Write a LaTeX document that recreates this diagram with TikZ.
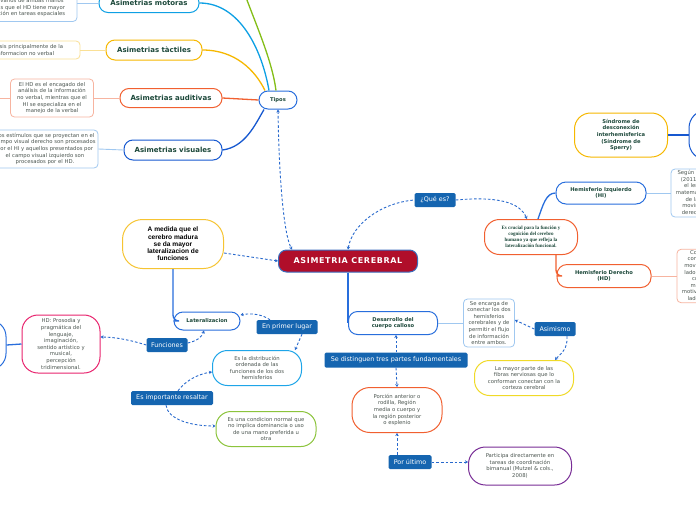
\documentclass[tikz,border=0pt]{standalone}
\usepackage{fontspec}
\setmainfont{DejaVu Sans}
\newfontfamily\arialfam{Liberation Sans}
\newfontfamily\timesfam{Liberation Serif}
\newfontfamily\titfam[LetterSpace=8]{DejaVu Sans}
\usetikzlibrary{arrows.meta}
\definecolor{titverde}{RGB}{28,72,58}
\definecolor{notagris}{RGB}{75,85,80}
\definecolor{etqazul}{RGB}{21,101,176}
\definecolor{enlazul}{RGB}{40,105,205}
\definecolor{rojo}{RGB}{176,14,42}
\definecolor{cmot}{RGB}{14,160,228}
\definecolor{ctac}{RGB}{246,184,0}
\definecolor{caud}{RGB}{241,96,48}
\definecolor{cvis}{RGB}{22,88,208}
\definecolor{cazul}{RGB}{40,110,220}
\definecolor{cverde}{RGB}{132,190,24}
\definecolor{ccian}{RGB}{30,165,232}
\definecolor{cpink}{RGB}{232,36,110}
\definecolor{ccond}{RGB}{140,196,60}
\definecolor{camar}{RGB}{240,218,40}
\definecolor{cmor}{RGB}{120,45,150}
\definecolor{cmedida}{RGB}{246,196,50}
\definecolor{ncel}{RGB}{160,200,240}
\definecolor{namar}{RGB}{250,224,150}
\definecolor{nsalm}{RGB}{247,180,160}
\definecolor{bordetit}{RGB}{60,110,190}
\newcommand{\notatxt}{\fontsize{5.3}{6.6}\selectfont}
\newcommand{\temtxt}{\fontsize{7}{8.4}\selectfont\bfseries}
\newcommand{\subtxt}{\fontsize{5.2}{6.6}\selectfont\bfseries}
\newcommand{\etqtxt}{\fontsize{6.4}{7.6}\selectfont}
\tikzset{
  tema/.style    ={draw, rounded corners=9pt, line width=1pt, fill=white, text=titverde, align=center, inner sep=1pt, font=\temtxt},
  subtema/.style ={tema, font=\subtxt},
  nota/.style    ={draw, rounded corners=4pt, line width=0.8pt, fill=white, text=notagris, align=center, inner sep=1pt, font=\notatxt},
  idea/.style    ={draw, rounded corners=15pt, line width=1pt, fill=white, text=notagris, align=center, inner sep=1pt, font=\notatxt},
  etiqueta/.style={fill=etqazul, text=white, rounded corners=1.5pt, align=center, inner sep=1pt, font=\etqtxt},
  rama/.style    ={line width=1.3pt},
  linea/.style   ={line width=0.9pt},
  enlace/.style  ={draw=enlazul, line width=0.9pt, dash pattern=on 2.6pt off 2pt}
}

\begin{document}
\begin{tikzpicture}[x=1pt, y=-1pt, >={Stealth[length=3pt,width=3.4pt]}]
  \useasboundingbox (0,0) rectangle (696,520);
  \fill[white] (0,0) rectangle (696,520);
  \coordinate (verdeorig) at (244,-8);
  \coordinate (audorig) at (-10,98);

  % tipos de asimetrias
  \node[nota, draw=ncel, minimum width=114, minimum height=30] (motnota) at (20,6.5) {\mbox{}\\Estudios varios de ambas manos\\evidencias que el HD tiene mayor\\participación en tareas espaciales};
  \node[nota, draw=namar, minimum width=110, minimum height=18] (tacnota) at (25,50) {análisis principalmente de la\\informacion no verbal};
  \node[nota, draw=nsalm, minimum width=83, minimum height=38] (audnota) at (52,98) {El HD es el encagado del\\análisis de la información\\no verbal, mientras que el\\HI se especializa en el\\manejo de la verbal};
  \node[nota, draw=ncel, minimum width=106, minimum height=38] (visnota) at (45,149) {Los estímulos que se proyectan en el\\campo visual derecho son procesados\\por el HI y aquellos presentados por\\el campo visual izquierdo son\\procesados por el HD.};
  \node[tema, draw=cmot, minimum width=100, minimum height=19] (motoras) at (149,3) {Asimetrias motoras};
  \node[tema, draw=ctac, minimum width=96, minimum height=20] (tactiles) at (154,50) {Asimetrias tàctiles};
  \node[tema, draw=caud, minimum width=102, minimum height=19] (auditivas) at (171,98) {Asimetrias auditivas};
  \node[tema, draw=cvis, minimum width=98, minimum height=20] (visuales) at (173,150) {Asimetrias visuales};
  \node[subtema, draw=cazul, minimum width=38, minimum height=18] (tipos) at (278,100) {Tipos};

  % centro
  \node[draw=bordetit, fill=rojo, text=white, rounded corners=8pt, line width=1pt, minimum width=139, minimum height=22, inner sep=1pt, font=\fontsize{8}{9}\titfam\bfseries] (asimetria) at (348,261) {ASIMETRIA CEREBRAL};
  \node[idea, draw=cmedida, text=black, rounded corners=20pt, minimum width=101, minimum height=49, font=\fontsize{6.6}{7.3}\arialfam\bfseries] (amedida) at (173,244) {A medida que el\\cerebro madura\\se da mayor\\lateralizacion de\\funciones};

  % lateralizacion
  \node[subtema, draw=cazul, minimum width=66, minimum height=18] (lateral) at (207,321) {Lateralizacion};
  \node[etiqueta, minimum width=61, minimum height=14] (primer) at (287,327) {En primer lugar};
  \node[idea, draw=ccian, minimum width=89, minimum height=35] (distrib) at (257,368) {Es la distribución\\ordenada de las\\funciones de los dos\\hemisferios};
  \node[etiqueta, minimum width=41, minimum height=14] (funciones) at (167,345) {Funciones};
  \node[idea, draw=cpink, rounded corners=16pt, minimum width=78, minimum height=58] (hdfun) at (61,344) {HD: Prosodia y\\pragmática del\\lenguaje,\\imaginación,\\sentido artístico y\\musical,\\percepción\\tridimensional.};
  \node[tema, draw=cazul, rounded corners=16pt, minimum width=72, minimum height=49] (izqnodo) at (-30,345) {};
  \node[etiqueta, minimum width=82, minimum height=14] (resaltar) at (172,398) {Es importante resaltar};
  \node[idea, draw=ccond, minimum width=100, minimum height=35] (condicion) at (266,429) {Es una condicion normal que\\no implica dominancia o uso\\de una mano preferida u\\otra};

  % cuerpo calloso
  \node[subtema, draw=cazul, minimum width=89, minimum height=23] (desarrollo) at (393,323) {Desarrollo del\\cuerpo calloso};
  \node[nota, draw=ncel, minimum width=51, minimum height=48] (encarga) at (489,323) {Se encarga de\\conectar los dos\\hemisferios\\cerebrales y de\\permitir el flujo\\de información\\entre ambos.};
  \node[etiqueta, minimum width=41, minimum height=14] (asimismo) at (555,329) {Asimismo};
  \node[idea, draw=camar, minimum width=99, minimum height=35] (mayor) at (524,378) {La mayor parte de las\\fibras nerviosas que lo\\conforman conectan con la\\corteza cerebral};
  \node[etiqueta, minimum width=143, minimum height=15] (distinguen) at (396,360) {Se distinguen tres partes fundamentales};
  \node[idea, draw=caud, rounded corners=18pt, minimum width=90, minimum height=45] (porcion) at (397,410) {Porción anterior o\\rodilla, Región\\media o cuerpo y\\la región posterior\\o esplenio};
  \node[etiqueta, minimum width=43, minimum height=14] (ultimo) at (410,462) {Por último};
  \node[idea, draw=cmor, rounded corners=17pt, minimum width=103, minimum height=38] (participa) at (520,466) {Participa directamente en\\tareas de coordinación\\bimanual (Mutzel \& cols.,\\2008)};

  % hemisferios
  \node[etiqueta, minimum width=41, minimum height=14] (quees) at (435,200) {¿Qué es?};
  \node[idea, draw=caud, text=titverde, minimum width=93, minimum height=35, font=\fontsize{5}{6}\timesfam\bfseries] (crucial) at (531,237) {Es crucial para la función y\\cognición del cerebro\\humano ya que refleja la\\lateralización funcional.};
  \node[subtema, draw=cazul, rounded corners=10pt, minimum width=90, minimum height=22] (hi) at (601,193) {Hemisferio Izquierdo\\(HI)};
  \node[nota, draw=ncel, minimum width=98, minimum height=48] (hinota) at (720,193) {Según Sánchez y colaboradores\\(2011) el HI se especializa en\\el lenguaje, el cálculo y las\\matemáticas, así como el control\\de la motricidad fina y los\\movimientos voluntarios del\\derecho del cuerpo humano.};
  \node[subtema, draw=caud, rounded corners=10pt, minimum width=94, minimum height=23] (hd) at (604,276) {Hemisferio Derecho\\(HD)};
  \node[nota, draw=nsalm, minimum width=90, minimum height=53] (hdnota) at (722,276) {Controla las emociones,\\considerando también los\\movimientos voluntarios del\\lado izquierdo del cuerpo, la\\cuestión espacial y los\\movimientos finos y los\\motivaciones y emociones del\\lado izquierdo del cuerpo.};
  \node[subtema, draw=ctac, rounded corners=16pt, minimum width=93, minimum height=44] (sperry) at (621,135) {Síndrome de\\desconexión\\interhemisferica\\(Síndrome de\\Sperry)};
  \node[tema, draw=cvis, rounded corners=18pt, minimum width=112, minimum height=50] (sperryder) at (745,135) {};

  % ramas
  \draw[rama, cverde] (verdeorig) .. controls (256,25) and (272,60) .. ([xshift=-2pt]tipos.north);
  \draw[rama, cmot] (motoras.east) .. controls (240,3) and (262,50) .. ([xshift=-9pt]tipos.north);
  \draw[rama, ctac] (tactiles.east) .. controls (235,50) and (255,70) .. ([xshift=-13pt]tipos.north);
  \draw[rama, caud] (auditivas.east) -- (tipos.west);
  \draw[rama, cvis] (visuales.east) .. controls (245,147) and (255,125) .. ([xshift=-14pt]tipos.south);
  \draw[linea, ncel] (motnota.east |- motoras.west) -- (motoras.west);
  \draw[linea, namar] (tacnota.east) -- (tactiles.west);
  \draw[linea, nsalm] (audorig) -- (audnota.west);
  \draw[linea, nsalm] (audnota.east) -- (auditivas.west);
  \draw[linea, ncel] (visnota.east) -- (visuales.west);
  \draw[rama, cazul, rounded corners=6pt] (amedida.south) |- (lateral.west);
  \draw[rama, cazul, rounded corners=6pt] (asimetria.south) |- (desarrollo.west);
  \draw[rama, cazul] (hdfun.west) -- (izqnodo.east);
  \draw[linea, ncel] (desarrollo.east) -- (encarga.west);
  \draw[rama, cvis] (sperry.east) -- (sperryder.west);
  \draw[rama, cazul] ([xshift=7pt]crucial.north) .. controls (543,205) and (546,193) .. (hi.west);
  \draw[rama, caud, rounded corners=6pt] ([xshift=25pt]crucial.south) |- (hd.west);
  \draw[linea, ncel] (hi.east) -- (hinota.west);
  \draw[linea, nsalm] (hd.east) -- (hdnota.west);

  % enlaces
  \draw[enlace, <->] (tipos.south) .. controls (279,180) and (284,235) .. ([xshift=-56pt]asimetria.north);
  \draw[enlace, ->] ([yshift=-9pt]amedida.east) -- (asimetria.west);
  \draw[enlace, <-] (asimetria.north) .. controls (352,225) and (380,203) .. (quees.west);
  \draw[enlace, ->] (quees.east) .. controls (500,196) and (520,203) .. ([xshift=-4pt]crucial.north);
  \draw[enlace, ->] ([xshift=-17pt]primer.north) .. controls (262,314) and (250,313) .. ([yshift=6pt]lateral.east);
  \draw[enlace, ->] ([xshift=15pt]primer.south) -- ([xshift=38pt]distrib.north);
  \draw[enlace, ->] ([yshift=2pt]funciones.east) .. controls (197,341) and (202,337) .. ([xshift=-3pt]lateral.south);
  \draw[enlace, ->] (funciones.west) .. controls (130,340) and (115,337) .. ([yshift=7pt]hdfun.east);
  \draw[enlace, ->] ([xshift=6pt]resaltar.north) .. controls (185,381) and (198,374) .. ([yshift=-4pt]distrib.west);
  \draw[enlace, ->] ([xshift=-6pt]resaltar.south) .. controls (168,420) and (192,426) .. ([yshift=3pt]condicion.west);
  \draw[enlace, ->] (distinguen.north) -- (distinguen.north |- desarrollo.south);
  \draw[enlace, ->] (distinguen.south) -- (porcion.north);
  \draw[enlace, ->] (porcion.south |- ultimo.north) -- (porcion.south);
  \draw[enlace, ->] (ultimo.east) -- (ultimo.east -| participa.west);
  \draw[enlace, ->] (asimismo.west) -- ([yshift=3pt]encarga.east);
  \draw[enlace, ->] ([xshift=12pt]asimismo.south) .. controls (568,350) and (560,354) .. ([xshift=31pt]mayor.north);
\end{tikzpicture}
\end{document}
